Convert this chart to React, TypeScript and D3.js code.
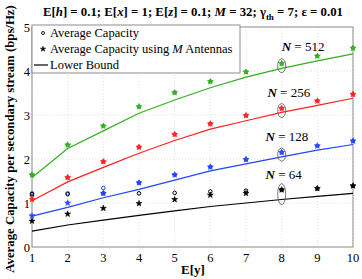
import React from 'react';
import * as d3 from 'd3';

// x values: E[y]
const ey = [1, 2, 3, 4, 5, 6, 7, 8, 9, 10];

// lower bound lines per N
const line512 = [1.58, 2.24, 2.64, 3.04, 3.34, 3.62, 3.86, 4.06, 4.23, 4.39];
const line256 = [1.05, 1.48, 1.81, 2.13, 2.42, 2.68, 2.87, 3.06, 3.22, 3.38];
const line128 = [0.7, 0.9, 1.12, 1.31, 1.52, 1.73, 1.89, 2.05, 2.2, 2.33];
const line64 = [0.36, 0.5, 0.61, 0.72, 0.82, 0.92, 1.0, 1.08, 1.15, 1.22];

// average capacity using M antennas (stars)
const star512 = [1.64, 2.32, 2.75, 3.19, 3.51, 3.76, 3.98, 4.17, 4.34, 4.52];
const star256 = [1.08, 1.58, 1.94, 2.27, 2.56, 2.8, 2.99, 3.15, 3.32, 3.47];
const star128 = [0.71, 1.0, 1.22, 1.46, 1.64, 1.82, 1.99, 2.15, 2.3, 2.41];
const star64 = [0.59, 0.75, 0.88, 0.99, 1.08, 1.18, 1.22, 1.3, 1.33, 1.39];

// average capacity (circles)
const circ512 = [1.64, 2.32, 2.75, 3.19, 3.51, 3.76, 3.98, 4.17, 4.34, 4.52];
const circ256 = [1.16, 1.58, 1.94, 2.27, 2.56, 2.8, 2.99, 3.15, 3.32, 3.47];
const circ128 = [1.22, 1.22, 1.34, 1.46, 1.64, 1.82, 1.99, 2.15, 2.3, 2.41];
const circ64 = [1.2, 1.2, 1.22, 1.22, 1.23, 1.26, 1.28, 1.3, 1.33, 1.39];

const nLabels = ['512', '256', '128', '64'];
const colors = ['#33b020', '#ff2020', '#2244ff', '#000000'];
const yTicks = [0, 1, 2, 3, 4, 5];

const App = () => {
  const width = 362;
  const height = 279;
  const margin = { top: 27, right: 9, bottom: 32, left: 32 };

  const x = d3.scaleLinear().domain([1, 10]).range([margin.left, width - margin.right]);
  const y = d3.scaleLinear().domain([0, 5]).range([height - margin.bottom, margin.top]);

  const lines = [line512, line256, line128, line64];
  const stars = [star512, star256, star128, star64];
  const circs = [circ512, circ256, circ128, circ64];

  const lineGen = d3.line<number>().x((d, i) => x(ey[i])).y((d) => y(d));
  const starPath = d3.symbol().type(d3.symbolStar).size(11)() as string;
  const legendStar = d3.symbol().type(d3.symbolStar).size(9)() as string;

  // annotation positions (label at x = 8)
  const labelY = [4.45, 3.4, 2.42, 1.55];
  const labelX = [8.0, 7.6, 7.55, 7.55];
  const ellipseRy = [7, 7, 6.5, 10.5];
  const ellipseV = [4.12, 3.1, 2.1, 1.2];

  const font = '"Liberation Serif", "Times New Roman", serif';

  return (
    <svg width={width} height={height} style={{ position: 'absolute', left: 0, top: 0 }}>
      <rect x={0} y={0} width={width} height={height} fill="#fff" />
      {/* grid */}
      {ey.map((d) => (
        <line key={'gx' + d} x1={x(d)} x2={x(d)} y1={y(0)} y2={y(5)} stroke="#d8d8d8" strokeWidth={0.8} strokeDasharray="1,2" />
      ))}
      {yTicks.map((d) => (
        <line key={'gy' + d} x1={x(1)} x2={x(10)} y1={y(d)} y2={y(d)} stroke="#d8d8d8" strokeWidth={0.8} strokeDasharray="1,2" />
      ))}
      {/* axes box */}
      <rect x={x(1)} y={y(5)} width={x(10) - x(1)} height={y(0) - y(5)} fill="none" stroke="#8c8c8c" strokeWidth={1} />

      {/* tick labels */}
      {ey.map((d) => (
        <text key={'tx' + d} x={x(d)} y={y(0) + 15} textAnchor="middle" fontFamily={font} fontSize={12.5}>{d}</text>
      ))}
      {yTicks.map((d) => (
        <text key={'ty' + d} x={x(1) - 2} y={y(d) + 5} textAnchor="end" fontFamily={font} fontSize={12.5}>{d}</text>
      ))}

      {/* lower bound lines */}
      {lines.map((l, i) => (
        <path key={'l' + i} d={lineGen(l) as string} fill="none" stroke={colors[i]} strokeWidth={1.2} />
      ))}
      {/* circles */}
      {circs.map((c, i) =>
        c.map((v, j) => (
          <circle key={'c' + i + '-' + j} cx={x(ey[j])} cy={y(v)} r={1.8} fill="none" stroke={colors[i]} strokeWidth={1} />
        ))
      )}
      {/* stars */}
      {stars.map((s, i) =>
        s.map((v, j) => (
          <path key={'s' + i + '-' + j} d={starPath} transform={`translate(${x(ey[j])},${y(v)})`} fill={colors[i]} stroke={colors[i]} strokeWidth={0.6} />
        ))
      )}

      {/* ellipses and N labels */}
      {nLabels.map((n, i) => (
        <g key={'n' + n}>
          <ellipse cx={x(8)} cy={y(ellipseV[i])} rx={4} ry={ellipseRy[i]} fill="none" stroke="#555" strokeWidth={0.8} />
          <text x={x(labelX[i])} y={y(labelY[i])} fontFamily={font} fontSize={13}>
            <tspan fontWeight="bold" fontStyle="italic">N</tspan>
            <tspan> = {n}</tspan>
          </text>
        </g>
      ))}

      {/* legend */}
      <rect x={x(1)} y={25} width={208} height={48} fill="#fff" stroke="#8c8c8c" strokeWidth={1} />
      <circle cx={43} cy={33} r={1.5} fill="none" stroke="#000" strokeWidth={0.9} />
      <text x={50} y={37} fontFamily={font} fontSize={12.5}>Average Capacity</text>
      <path d={legendStar} transform="translate(43,49)" fill="#000" stroke="#000" strokeWidth={0.5} />
      <text x={50} y={53} fontFamily={font} fontSize={12.5}>
        Average Capacity using <tspan fontStyle="italic">M</tspan> Antennas
      </text>
      <line x1={34} x2={48} y1={65} y2={65} stroke="#000" strokeWidth={1.2} />
      <text x={50} y={69} fontFamily={font} fontSize={12.5}>Lower Bound</text>

      {/* title */}
      <text x={193} y={16} textAnchor="middle" fontFamily={font} fontSize={12.8} fontWeight="bold">
        E[<tspan fontStyle="italic">h</tspan>] = 0.1; E[<tspan fontStyle="italic">x</tspan>] = 1; E[<tspan fontStyle="italic">z</tspan>] = 0.1; <tspan fontStyle="italic">M</tspan> = 32; γ<tspan fontSize={9} dy={4}>th</tspan><tspan dy={-4}> = 7; ε = 0.01</tspan>
      </text>

      {/* axis labels */}
      <text x={193} y={274} textAnchor="middle" fontFamily={font} fontSize={13} fontWeight="bold">E[y]</text>
      <text transform={`translate(14,${(y(0) + y(5)) / 2 + 2}) rotate(-90)`} textAnchor="middle" fontFamily={font} fontSize={12.8} fontWeight="bold">
        Average Capacity per secondary stream (bps/Hz)
      </text>
    </svg>
  );
};

export default App;
